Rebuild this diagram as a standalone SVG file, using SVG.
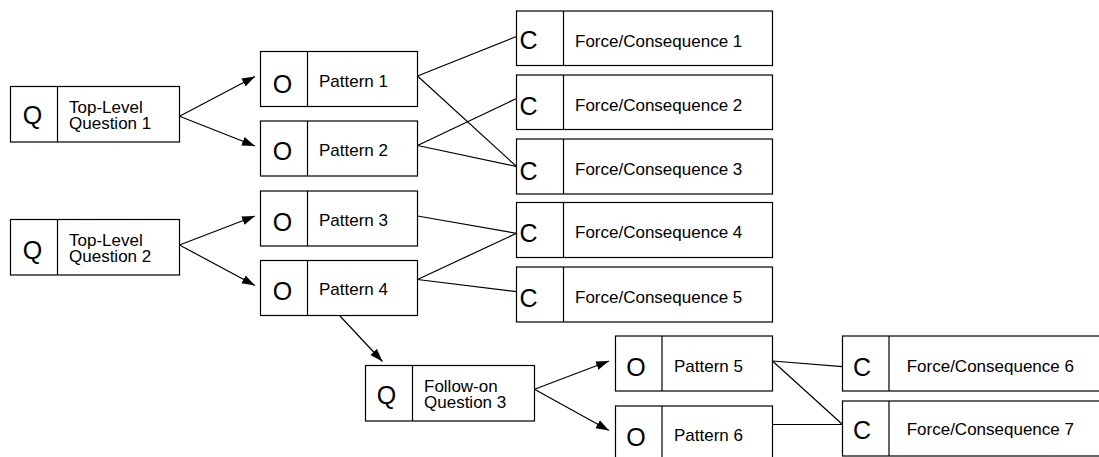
<svg xmlns="http://www.w3.org/2000/svg" width="1099" height="457" viewBox="0 0 1099 457">
  <style>
    .box { fill: #fff; stroke: #000; stroke-width: 1.2; }
    .div { stroke: #000; stroke-width: 1.2; }
    .tag { font-family: "Liberation Sans", Arial, Helvetica, sans-serif; font-size: 25px; fill: #000; }
    .lbl { font-family: "Liberation Sans", Arial, Helvetica, sans-serif; font-size: 17px; fill: #000; }
    .edge { fill: none; stroke: #000; stroke-width: 1.2; }
    .arrow { marker-end: url(#head); }
  </style>
  <defs>
    <marker id="head" markerUnits="userSpaceOnUse" markerWidth="14" markerHeight="10" refX="13" refY="5" orient="auto">
      <path d="M0,0.5 L13,5 L0,9.5 Z" fill="#000"/>
    </marker>
  </defs>

  <!-- connectors -->
  <g id="connectors">
    <line class="edge arrow" x1="179.5" y1="116.3" x2="255" y2="76.5"/>
    <line class="edge arrow" x1="179.5" y1="116.3" x2="255" y2="146"/>
    <line class="edge arrow" x1="179.5" y1="245" x2="255" y2="216"/>
    <line class="edge arrow" x1="179.5" y1="245" x2="255" y2="285.5"/>
    <line class="edge arrow" x1="340" y1="316" x2="382.5" y2="361.5"/>
    <line class="edge arrow" x1="534.5" y1="389.3" x2="609" y2="361"/>
    <line class="edge arrow" x1="534.5" y1="389.3" x2="609" y2="430.5"/>

    <line class="edge" x1="417.5" y1="76" x2="516.5" y2="36.5" stroke-width="1.5"/>
    <line class="edge" x1="417.5" y1="76" x2="516.5" y2="166.5"/>
    <line class="edge" x1="417.5" y1="145.5" x2="516.5" y2="98.5"/>
    <line class="edge" x1="417.5" y1="145.5" x2="516.5" y2="166.5"/>
    <line class="edge" x1="417.5" y1="216" x2="516.5" y2="233.3"/>
    <line class="edge" x1="417.5" y1="279.5" x2="516.5" y2="233.3"/>
    <line class="edge" x1="417.5" y1="279.5" x2="516.5" y2="291.7"/>
    <line class="edge" x1="772.5" y1="361" x2="842.5" y2="366.7"/>
    <line class="edge" x1="772.5" y1="361" x2="842.5" y2="424.5"/>
    <line class="edge" x1="772.5" y1="424.5" x2="842.5" y2="424.5"/>
  </g>

  <!-- question nodes -->
  <g id="q1">
    <rect class="box" x="10.5" y="86.5" width="169" height="55.5"/>
    <line class="div" x1="57.5" y1="86.5" x2="57.5" y2="142"/>
    <text class="tag" x="32.5" y="124" text-anchor="middle">Q</text>
    <text class="lbl" x="69" y="112.5">Top-Level<tspan x="69" dy="16.2">Question 1</tspan></text>
  </g>
  <g id="q2">
    <rect class="box" x="10.5" y="219.5" width="169" height="55.5"/>
    <line class="div" x1="57.5" y1="219.5" x2="57.5" y2="275"/>
    <text class="tag" x="32.5" y="258.5" text-anchor="middle">Q</text>
    <text class="lbl" x="69" y="245.8">Top-Level<tspan x="69" dy="16.2">Question 2</tspan></text>
  </g>
  <g id="q3">
    <rect class="box" x="365.5" y="365.5" width="169" height="55.5"/>
    <line class="div" x1="412.5" y1="365.5" x2="412.5" y2="421"/>
    <text class="tag" x="386.5" y="404" text-anchor="middle">Q</text>
    <text class="lbl" x="424" y="391.7">Follow-on<tspan x="424" dy="16">Question 3</tspan></text>
  </g>

  <!-- pattern (option) nodes -->
  <g id="p1">
    <rect class="box" x="260.5" y="51.5" width="157" height="55"/>
    <line class="div" x1="307.5" y1="51.5" x2="307.5" y2="106.5"/>
    <text class="tag" x="282.5" y="93" text-anchor="middle">O</text>
    <text class="lbl" x="319" y="86.7">Pattern 1</text>
  </g>
  <g id="p2">
    <rect class="box" x="260.5" y="121" width="157" height="55"/>
    <line class="div" x1="307.5" y1="121" x2="307.5" y2="176"/>
    <text class="tag" x="282.5" y="160" text-anchor="middle">O</text>
    <text class="lbl" x="319" y="156">Pattern 2</text>
  </g>
  <g id="p3">
    <rect class="box" x="260.5" y="191" width="157" height="55"/>
    <line class="div" x1="307.5" y1="191" x2="307.5" y2="246"/>
    <text class="tag" x="282.5" y="230.5" text-anchor="middle">O</text>
    <text class="lbl" x="319" y="226">Pattern 3</text>
  </g>
  <g id="p4">
    <rect class="box" x="260.5" y="260.5" width="157" height="55"/>
    <line class="div" x1="307.5" y1="260.5" x2="307.5" y2="315.5"/>
    <text class="tag" x="282.5" y="299.5" text-anchor="middle">O</text>
    <text class="lbl" x="319" y="295.3">Pattern 4</text>
  </g>
  <g id="p5">
    <rect class="box" x="615.5" y="336" width="157" height="55"/>
    <line class="div" x1="662" y1="336" x2="662" y2="391"/>
    <text class="tag" x="636" y="375.5" text-anchor="middle">O</text>
    <text class="lbl" x="674" y="371.7">Pattern 5</text>
  </g>
  <g id="p6">
    <rect class="box" x="615.5" y="406" width="157" height="60"/>
    <line class="div" x1="662" y1="406" x2="662" y2="466"/>
    <text class="tag" x="636" y="445.5" text-anchor="middle">O</text>
    <text class="lbl" x="674" y="441">Pattern 6</text>
  </g>

  <!-- force / consequence nodes -->
  <g id="c1">
    <rect class="box" x="516.5" y="11" width="256" height="54.5"/>
    <line class="div" x1="563.5" y1="11" x2="563.5" y2="65.5"/>
    <text class="tag" x="519.5" y="49">C</text>
    <text class="lbl" x="575" y="46.7">Force/Consequence 1</text>
  </g>
  <g id="c2">
    <rect class="box" x="516.5" y="75" width="256" height="54.5"/>
    <line class="div" x1="563.5" y1="75" x2="563.5" y2="129.5"/>
    <text class="tag" x="519.5" y="114.5">C</text>
    <text class="lbl" x="575" y="110.5">Force/Consequence 2</text>
  </g>
  <g id="c3">
    <rect class="box" x="516.5" y="139" width="256" height="55"/>
    <line class="div" x1="563.5" y1="139" x2="563.5" y2="194"/>
    <text class="tag" x="519.5" y="179.5">C</text>
    <text class="lbl" x="575" y="175">Force/Consequence 3</text>
  </g>
  <g id="c4">
    <rect class="box" x="516.5" y="202.5" width="256" height="55"/>
    <line class="div" x1="563.5" y1="202.5" x2="563.5" y2="257.5"/>
    <text class="tag" x="519.5" y="242">C</text>
    <text class="lbl" x="575" y="238.3">Force/Consequence 4</text>
  </g>
  <g id="c5">
    <rect class="box" x="516.5" y="267" width="256" height="55"/>
    <line class="div" x1="563.5" y1="267" x2="563.5" y2="322"/>
    <text class="tag" x="519.5" y="306.5">C</text>
    <text class="lbl" x="575" y="302.5">Force/Consequence 5</text>
  </g>
  <g id="c6">
    <rect class="box" x="842.5" y="336" width="262" height="55"/>
    <line class="div" x1="889" y1="336" x2="889" y2="391"/>
    <text class="tag" x="853" y="375.5">C</text>
    <text class="lbl" x="906.7" y="371.7">Force/Consequence 6</text>
  </g>
  <g id="c7">
    <rect class="box" x="842.5" y="401" width="262" height="55"/>
    <line class="div" x1="889" y1="401" x2="889" y2="456"/>
    <text class="tag" x="853" y="439">C</text>
    <text class="lbl" x="906.7" y="435">Force/Consequence 7</text>
  </g>
</svg>
